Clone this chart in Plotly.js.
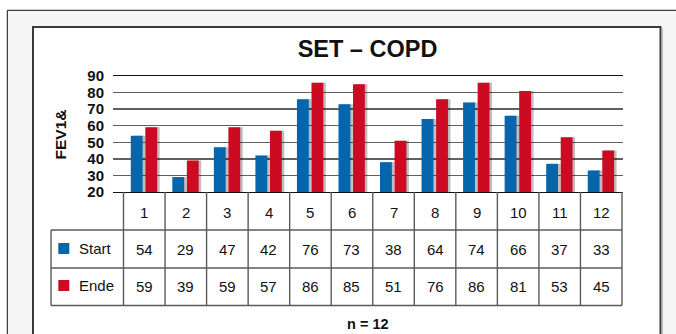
<!DOCTYPE html>
<html>
<head>
<meta charset="utf-8">
<script src="https://cdn.plot.ly/plotly-3.0.1.min.js"></script>
<style>html,body{margin:0;padding:0;background:#fff;}</style>
</head>
<body>
<div id="chart" style="width:676px;height:334px;"></div>
<script>
// ---- data ----
const categories = ['1','2','3','4','5','6','7','8','9','10','11','12'];
const startValues = [54, 29, 47, 42, 76, 73, 38, 64, 74, 66, 37, 33];
const endeValues  = [59, 39, 59, 57, 86, 85, 51, 76, 86, 81, 53, 45];
const seriesNames = ['Start', 'Ende'];
const yTickValues = [20, 30, 40, 50, 60, 70, 80, 90];
const chartTitle = 'SET – COPD';
const yAxisTitle = 'FEV1&';
const footnote = 'n = 12';

// ---- styling ----
const W = 676, H = 334;
const FONT = 'Liberation Sans, Arial, Helvetica, sans-serif';
const BLUE = '#0565ad', RED = '#cc0a22', LINE = '#5a5a5a';
const px = v => v / W;          // pixel x -> paper
const py = v => 1 - v / H;      // pixel y -> paper

const rowTop = 192, rowB1 = 230, rowB2 = 268, rowB3 = 305.5;
const tableLeft = 51, tableRight = 622;

const barW = 0.285, shadowShift = 0.06;
const series = [startValues, endeValues];
const colors = [BLUE, RED];
const offsets = [-0.325, 0.025];

const traces = [];
series.forEach((vals, i) => {
  traces.push({
    type: 'bar', x: categories, y: vals, width: barW, offset: offsets[i] + shadowShift,
    marker: {color: 'rgba(0,0,0,0.26)', line: {width: 0}},
    hoverinfo: 'skip', showlegend: false
  });
});
series.forEach((vals, i) => {
  traces.push({
    type: 'bar', name: seriesNames[i], x: categories, y: vals, width: barW, offset: offsets[i],
    marker: {color: colors[i], line: {width: 0}},
    hoverinfo: 'skip', showlegend: false
  });
});

const shapes = [
  // outer light-grey frame
  {type: 'rect', xref: 'paper', yref: 'paper', x0: px(7.3), x1: 1.2, y0: -0.2, y1: py(10.3),
   fillcolor: '#f4f5f4', line: {color: '#111', width: 1}, layer: 'below'},
  // inner white panel
  {type: 'rect', xref: 'paper', yref: 'paper', x0: px(33), x1: px(660.5), y0: -0.2, y1: py(27),
   fillcolor: '#ffffff', line: {color: '#3a3a3a', width: 2}, layer: 'below'},
  {type: 'line', xref: 'paper', yref: 'paper', x0: px(662.3), x1: px(662.3), y0: -0.2, y1: py(28.5),
   line: {color: '#b8b8b8', width: 1.2}, layer: 'below'}
];
// table horizontal lines
[rowB1, rowB2, rowB3].forEach(r => {
  shapes.push({type: 'line', xref: 'paper', yref: 'paper', x0: px(tableLeft), x1: px(tableRight),
    y0: py(r), y1: py(r), line: {color: LINE, width: 1.4}});
});
// table vertical lines at category boundaries
for (let k = 0; k <= categories.length; k++) {
  shapes.push({type: 'line', xref: 'x', yref: 'paper', x0: k - 0.5, x1: k - 0.5,
    y0: py(rowTop), y1: py(rowB3), line: {color: LINE, width: 1.4}});
}
shapes.push({type: 'line', xref: 'paper', yref: 'paper', x0: px(tableLeft), x1: px(tableLeft),
  y0: py(rowB1), y1: py(rowB3), line: {color: LINE, width: 1.4}});
// legend squares
const rowCenters = [248.5, 285.5];
rowCenters.forEach((c, i) => {
  shapes.push({type: 'rect', xref: 'paper', yref: 'paper', x0: px(58.3), x1: px(69.3),
    y0: py(c + 5.5), y1: py(c - 5.5), fillcolor: colors[i], line: {width: 0}});
});

const annotations = [];
const cellFont = {family: FONT, size: 15, color: '#111'};
categories.forEach((c, k) => {
  annotations.push({xref: 'x', yref: 'paper', x: k, y: py(212), text: c, showarrow: false,
    xanchor: 'center', yanchor: 'middle', font: cellFont});
  series.forEach((vals, i) => {
    annotations.push({xref: 'x', yref: 'paper', x: k, y: py(rowCenters[i] + 0.5), text: String(vals[i === 0 ? k : k]),
      showarrow: false, xanchor: 'center', yanchor: 'middle', font: cellFont});
  });
});
seriesNames.forEach((n, i) => {
  annotations.push({xref: 'paper', yref: 'paper', x: px(76.5), y: py(rowCenters[i]), text: n,
    showarrow: false, xanchor: 'left', yanchor: 'middle', font: cellFont});
});
annotations.push({xref: 'paper', yref: 'paper', x: px(60), y: py(134.5), text: '<b>' + yAxisTitle + '</b>',
  textangle: -90, showarrow: false, xanchor: 'center', yanchor: 'middle',
  font: {family: FONT, size: 15.5, color: '#111'}});
annotations.push({xref: 'paper', yref: 'paper', x: px(367.5), y: py(323.5), text: '<b>' + footnote + '</b>',
  showarrow: false, xanchor: 'center', yanchor: 'middle',
  font: {family: FONT, size: 14.5, color: '#111'}});

const colPx = (623 - 113);
const layout = {
  width: W, height: H,
  margin: {l: 0, r: 0, t: 0, b: 0, pad: 0},
  paper_bgcolor: '#ffffff', plot_bgcolor: 'rgba(0,0,0,0)',
  barmode: 'overlay',
  showlegend: false,
  title: {text: '<b>' + chartTitle + '</b>', xref: 'paper', yref: 'paper', x: px(367.5), y: py(48.5),
    xanchor: 'center', yanchor: 'middle', font: {family: FONT, size: 23.5, color: '#111'}},
  xaxis: {type: 'category', domain: [px(113), px(623)], range: [-0.5 - 10.5 / 41.54, 11.5 + 1 / 41.54],
    showticklabels: false, ticks: '', showgrid: false, zeroline: false,
    showline: true, mirror: true, linecolor: '#111', linewidth: 1.4, fixedrange: true},
  yaxis: {domain: [py(192), py(76)], range: [20, 90], tickvals: yTickValues, ticktext: yTickValues.map(String),
    showgrid: true, gridcolor: '#606060', gridwidth: 1.3, zeroline: false, showline: false, ticks: '',
    ticklabelstandoff: 8,
    tickfont: {family: FONT, size: 15, color: '#111', weight: 'bold'}, fixedrange: true},
  shapes: shapes,
  annotations: annotations
};

Plotly.newPlot('chart', traces, layout, {displayModeBar: false, staticPlot: true});
</script>
</body>
</html>
